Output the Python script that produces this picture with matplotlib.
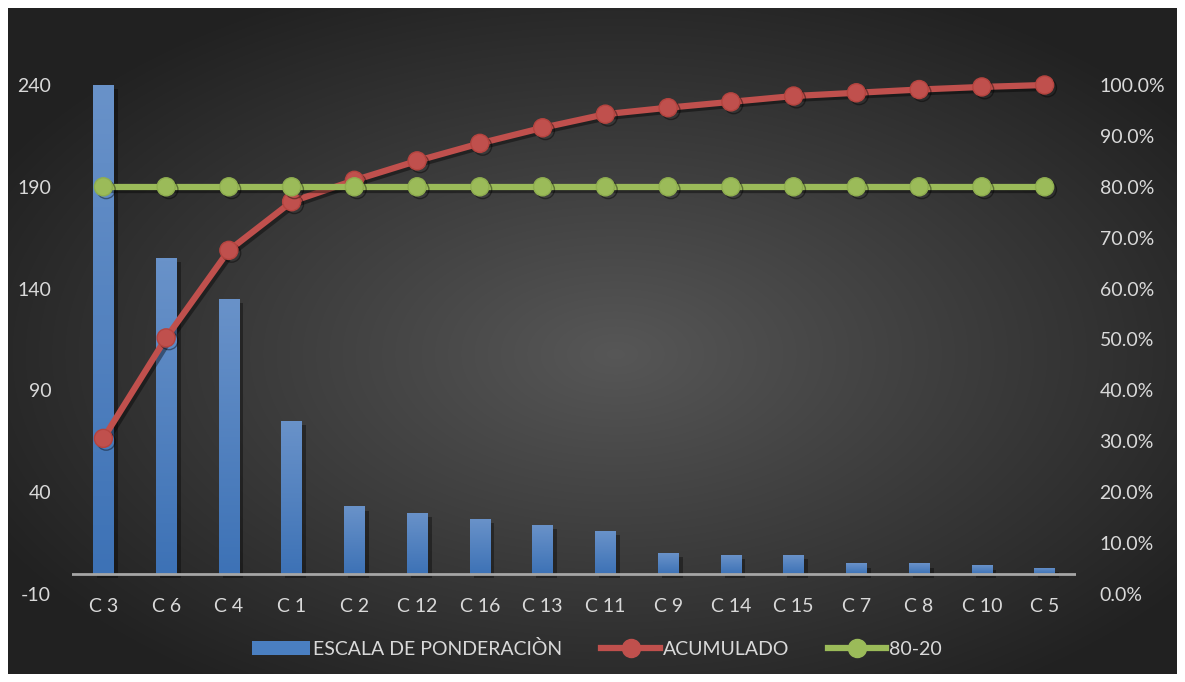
"""Pareto chart: weighting scale per criterion with cumulative share and 80-20 line."""

import matplotlib

matplotlib.use("Agg")
import matplotlib.pyplot as plt  # noqa: E402
import matplotlib.patheffects as pe  # noqa: E402
import numpy as np  # noqa: E402
from matplotlib.lines import Line2D  # noqa: E402
from matplotlib.patches import Patch  # noqa: E402
from matplotlib.ticker import PercentFormatter  # noqa: E402

categories = ["C 3", "C 6", "C 4", "C 1", "C 2", "C 12", "C 16", "C 13",
              "C 11", "C 9", "C 14", "C 15", "C 7", "C 8", "C 10", "C 5"]
weights = [240, 155, 135, 75, 33, 30, 27, 24, 21, 10, 9, 9, 5, 5, 4, 3]
cumulative = np.cumsum(weights) / np.sum(weights)
cutoff = [0.8] * len(categories)

left_ticks = [-10, 40, 90, 140, 190, 240]
right_ticks = np.arange(0, 1.01, 0.1)

TEXT = "#d9d9d9"
RED = "#c0504d"
GREEN = "#9bbb59"
FS = 14

plt.rcParams["font.family"] = ["Lato", "DejaVu Sans"]
plt.rcParams["axes.unicode_minus"] = False

W, H = 1185, 682
fig = plt.figure(figsize=(W / 100, H / 100), dpi=100, facecolor="white")

# dark panel with a soft radial highlight
bg = fig.add_axes([8 / W, 8 / H, 1 - 16 / W, 1 - 16 / H])
yy, xx = np.mgrid[0:1:300j, 0:1:520j]
dist = np.sqrt(((xx - 0.52) / 0.75) ** 2 + ((yy - 0.52) / 0.75) ** 2)
shade = np.clip(0.34 - 0.26 * dist, 0.13, 0.34)
bg.imshow(np.dstack([shade] * 3), extent=(0, 1, 0, 1), aspect="auto",
          interpolation="bicubic")
bg.set_axis_off()

ax = fig.add_axes([72 / W, 88 / H, 1004 / W, 509 / H])
ax.set_facecolor("none")
x = np.arange(len(categories))
bars = ax.bar(x, weights, width=0.33, color="#4a7fc1", zorder=2)
grad = np.linspace(0, 1, 100).reshape(-1, 1)
blues = matplotlib.colors.LinearSegmentedColormap.from_list(
    "bar", ["#3d72b6", "#6992c9"])
for b in bars:
    b.set_path_effects([pe.SimplePatchShadow(offset=(3, -3), shadow_rgbFace="black",
                                             alpha=0.35),
                        pe.Normal()])
    im = ax.imshow(grad, cmap=blues, origin="lower", aspect="auto", zorder=3,
                   extent=(b.get_x(), b.get_x() + b.get_width(),
                           0, b.get_height()))
    im.set_clip_path(b)
ax.axhline(0, color="#a6a6a6", lw=2, zorder=4)
ax.set_xlim(-0.5, len(categories) - 0.5)
ax.set_ylim(-10, 240)
ax.set_yticks(left_ticks)
ax.set_xticks(x)
ax.set_xticklabels(categories)
ax.tick_params(axis="x", length=0, pad=3, labelsize=FS, colors=TEXT)
ax.tick_params(axis="y", length=0, pad=15, labelsize=FS, colors=TEXT)
for s in ax.spines.values():
    s.set_visible(False)

ax2 = ax.twinx()
shadow = [pe.SimpleLineShadow(offset=(2, -2), alpha=0.4), pe.Normal()]
ax2.plot(x, cumulative, color=RED, lw=4.5, marker="o", ms=13,
         markeredgecolor="#b5443f", markeredgewidth=1, path_effects=shadow,
         zorder=3, clip_on=False)
ax2.plot(x, cutoff, color=GREEN, lw=4.5, marker="o", ms=13,
         markeredgecolor="#8fae4f", markeredgewidth=1, path_effects=shadow,
         zorder=4, clip_on=False)
ax2.set_ylim(0, 1)
ax2.set_yticks(right_ticks)
ax2.yaxis.set_major_formatter(PercentFormatter(1.0, decimals=1))
ax2.tick_params(axis="y", length=0, pad=17, labelsize=FS, colors=TEXT)
for s in ax2.spines.values():
    s.set_visible(False)

handles = [
    Patch(facecolor="#4a7fc1", label="ESCALA DE PONDERACIÒN"),
    Line2D([], [], color=RED, lw=4.5, marker="o", ms=13, label="ACUMULADO"),
    Line2D([], [], color=GREEN, lw=4.5, marker="o", ms=13, label="80-20"),
]
fig.legend(handles=handles, loc="center", ncol=3,
           bbox_to_anchor=(597 / W, 1 - 649 / H), frameon=False,
           fontsize=FS, labelcolor=TEXT, handlelength=3.0,
           handleheight=0.75, handletextpad=0.15, columnspacing=2.0)

fig.savefig("out.png", dpi=100, facecolor=fig.get_facecolor())
